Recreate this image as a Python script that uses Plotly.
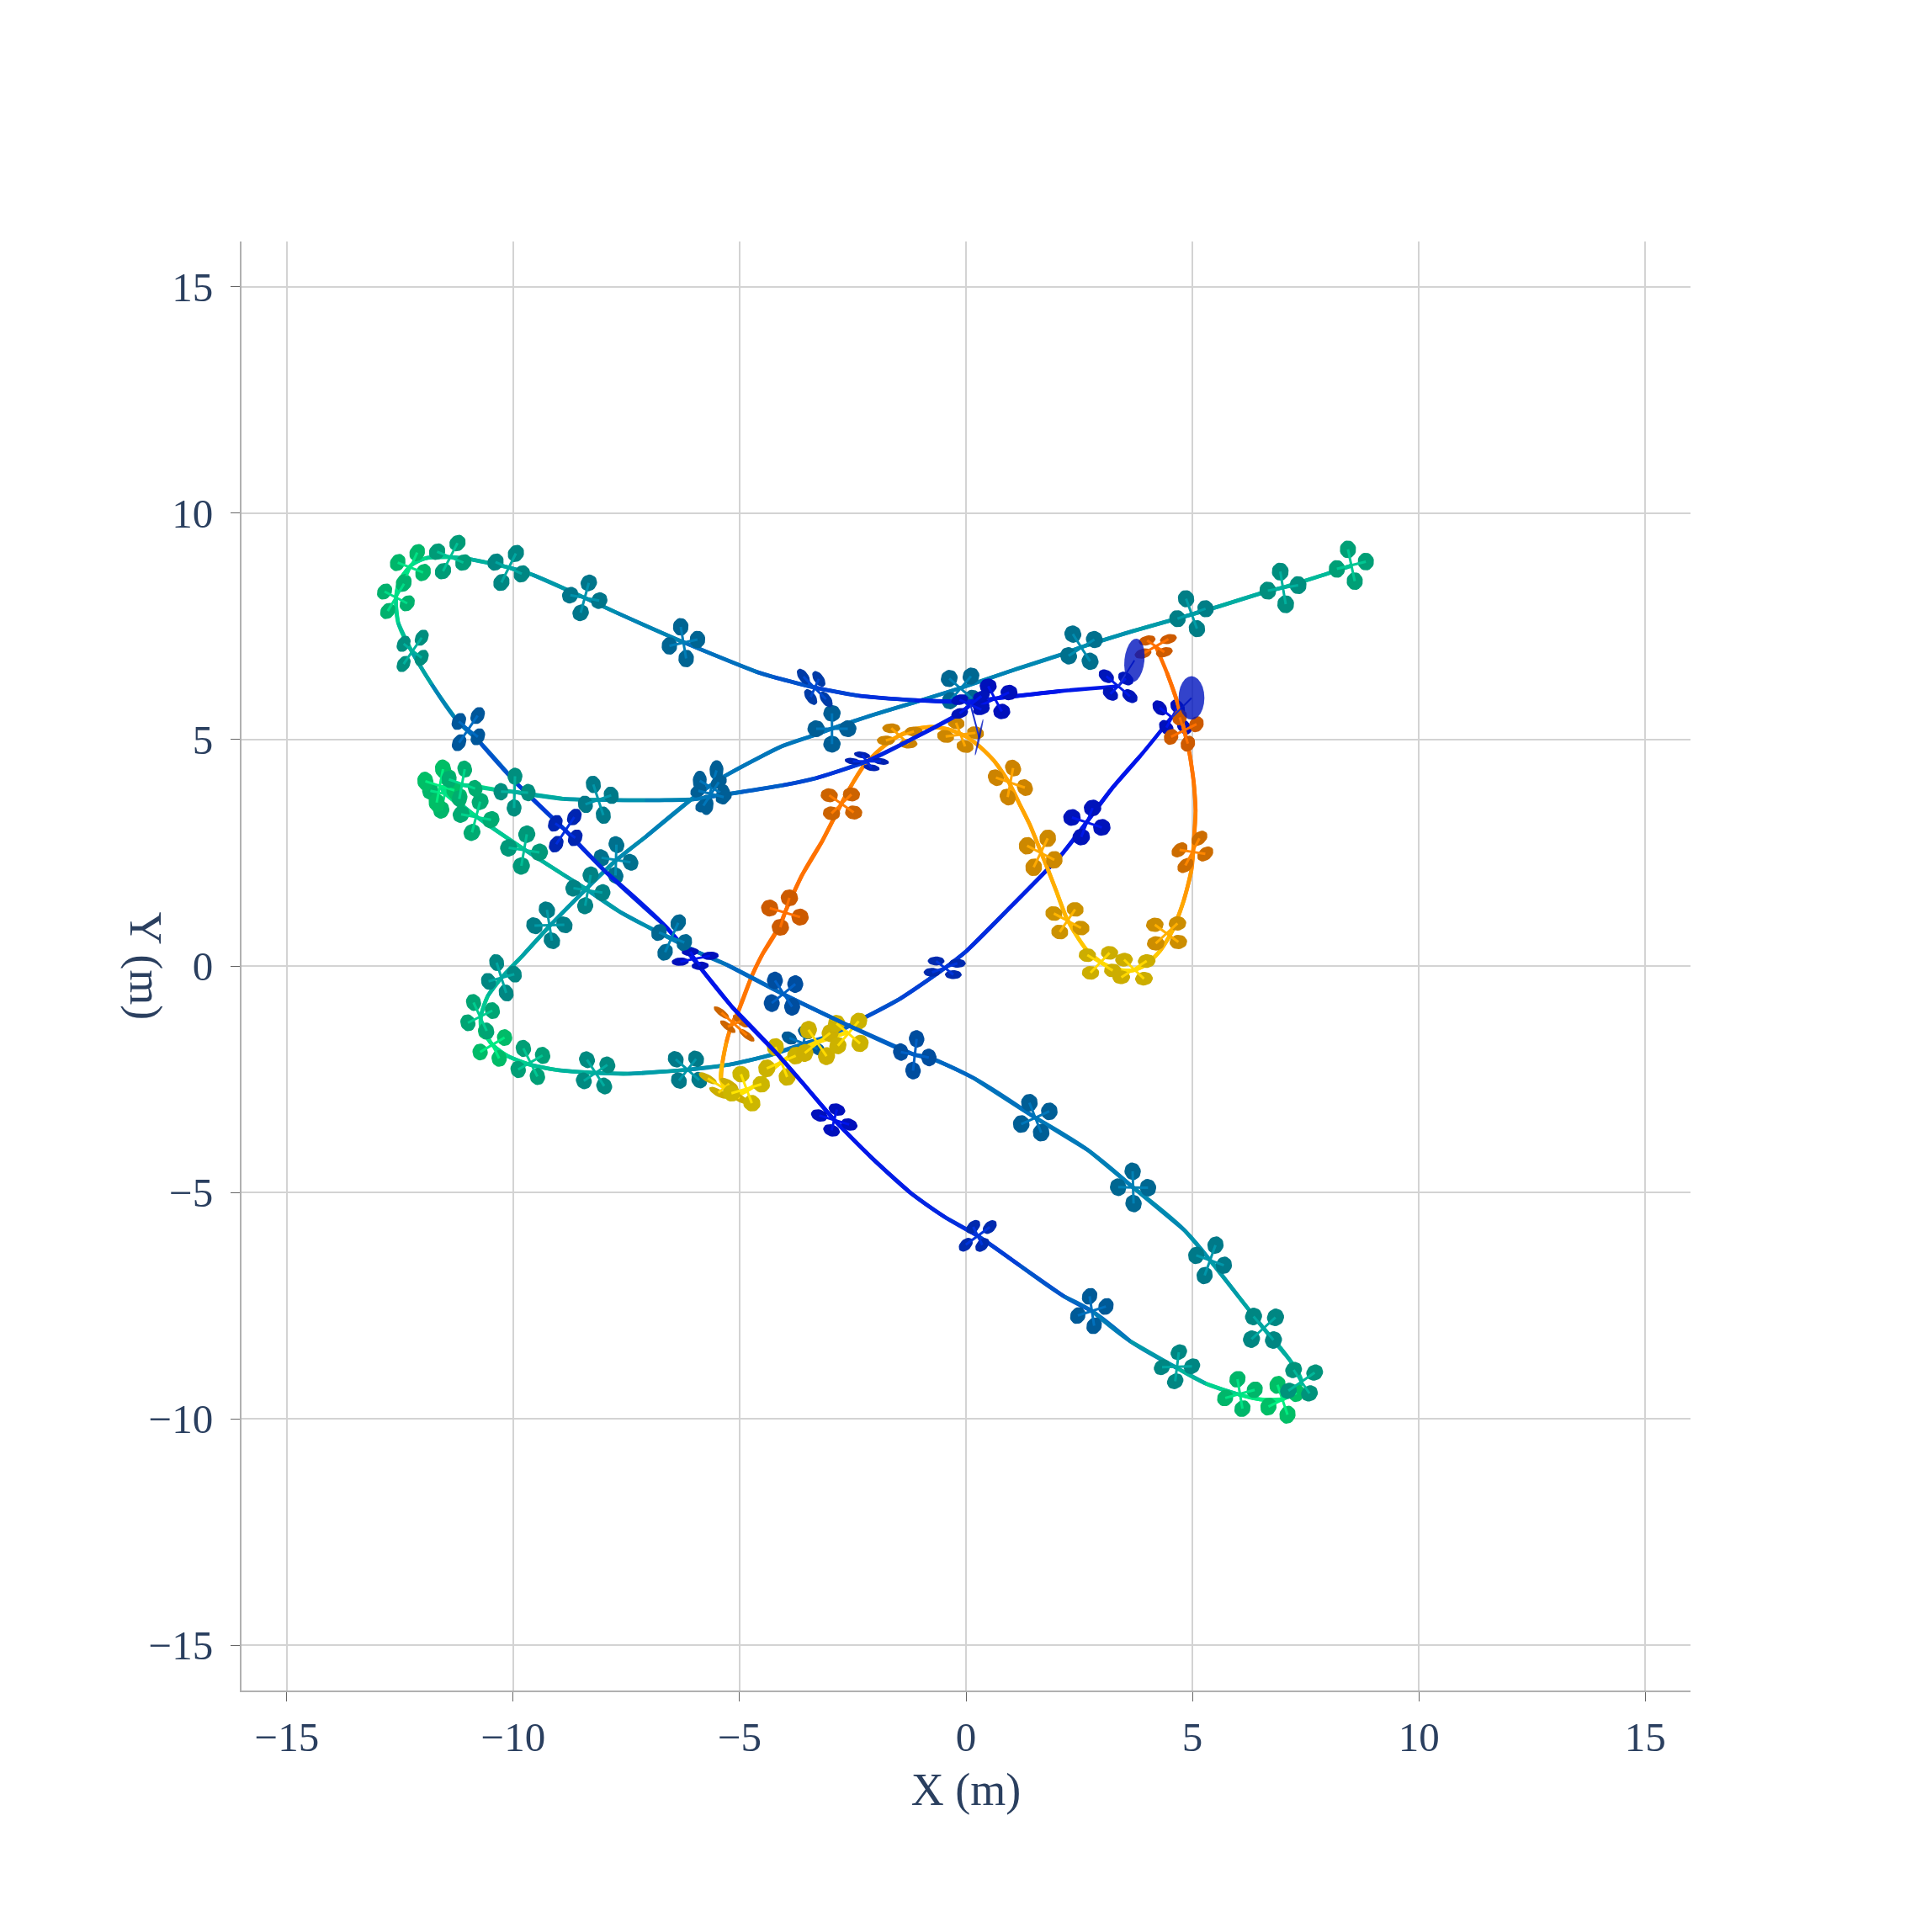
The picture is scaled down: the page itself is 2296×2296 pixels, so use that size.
import numpy as np
import plotly.graph_objects as go
from plotly.colors import sample_colorscale, unlabel_rgb

# trajectories, shade is 0..1 along each colour scale
path_a_x = [4.53, 3.85, 3.23, 2.66, 2.12, 1.68, 0.94, 0.01, -0.46, -1.45, -2.26, -3.06, -3.56, -4.30, -5.23, -6.16,
            -7.46, -8.20, -9.01, -9.63, -10.12, -10.46, -10.71, -10.71, -10.56, -10.25, -9.81, -9.19, -8.39, -7.71,
            -7.09, -6.03, -5.35, -4.61, -4.05, -3.43, -2.97, -2.07, -1.14, -0.15, 1.03, 2.08, 2.54, 3.70, 4.97, 5.61,
            6.67, 7.00, 8.09, 8.51]
path_a_y = [5.48, 4.64, 3.93, 3.17, 2.47, 2.01, 1.26, 0.33, -0.04, -0.72, -1.15, -1.56, -1.71, -1.96, -2.18, -2.29,
            -2.38, -2.36, -2.30, -2.18, -1.99, -1.74, -1.34, -1.09, -0.66, -0.25, 0.21, 0.89, 1.70, 2.35,
            2.84, 3.71, 4.18, 4.58, 4.86, 5.07, 5.24, 5.54, 5.82, 6.13, 6.53, 6.87, 7.04, 7.40, 7.76, 7.95,
            8.28, 8.36, 8.70, 8.84]
path_a_c = [0.0, 0.0, 0.0, 0.02, 0.03, 0.05, 0.08, 0.14, 0.17, 0.24, 0.32, 0.38, 0.42, 0.48, 0.55, 0.6,
            0.66, 0.7, 0.76, 0.82, 0.9, 0.98, 0.92, 0.86, 0.78, 0.7, 0.66, 0.62, 0.6, 0.56,
            0.52, 0.47, 0.45, 0.45, 0.45, 0.45, 0.46, 0.47, 0.48, 0.5, 0.52, 0.54, 0.56, 0.6, 0.64, 0.68,
            0.72, 0.74, 0.78, 0.82]

path_b_x = [3.36, 2.08, 0.66, 0.10, -1.14, -2.38, -3.34, -4.24, -4.61, -6.24, -7.71, -8.42, -9.57, -10.06, -10.93,
            -11.42, -11.92, -12.23, -12.51, -12.59, -12.54, -12.23, -11.80, -11.24, -10.80, -9.94, -8.85, -7.95, -6.65,
            -5.97, -5.17, -4.18, -3.56, -2.91, -2.13, -1.20, -0.46, 0.26, 1.18, 2.17, 2.78, 3.63, 4.66, 5.29, 6.05,
            6.49, 6.99, 7.32, 7.41, 7.15, 6.57, 6.02, 5.39, 4.83, 3.69, 2.70, 1.53, 0.18, -0.82, -1.14, -2.88, -4.02,
            -5.29, -5.91, -6.53, -6.96, -7.65, -8.39, -8.88, -9.75, -10.80, -11.58, -11.14, -10.31, -9.94, -8.88,
            -8.11, -7.09, -6.03, -5.63, -4.98, -4.05, -3.31, -2.19, -1.14, -0.15, 0.10]
path_b_y = [6.18, 6.07, 5.91, 5.84, 5.87, 5.97, 6.15, 6.38, 6.49, 7.15, 7.80, 8.13, 8.64, 8.79, 8.98,
            9.03, 9.01, 8.87, 8.51, 8.11, 7.58, 6.93, 6.22, 5.42, 5.01, 4.05, 3.00, 2.07, 0.89,
            0.09, -0.90, -1.93, -2.64, -3.40, -4.19, -5.03, -5.55, -5.96, -6.61, -7.30, -7.62, -8.29, -8.88, -9.22, -9.47,
            -9.57, -9.57, -9.35, -9.18, -8.70, -8.00, -7.30, -6.50, -5.84, -4.89, -4.07, -3.35, -2.48, -2.02, -1.96, -1.18, -0.63,
            0.03, 0.30, 0.61, 0.83, 1.20, 1.70, 2.01, 2.57, 3.29, 3.93, 4.00, 3.88, 3.84, 3.69,
            3.67, 3.66, 3.68, 3.74, 3.84, 3.99, 4.15, 4.52, 5.04, 5.57, 5.77]
path_b_c = [0.03, 0.01, 0.0, 0.03, 0.08, 0.18, 0.25, 0.33, 0.36, 0.48, 0.55, 0.58, 0.64, 0.68, 0.76,
            0.8, 0.88, 0.95, 0.95, 0.92, 0.84, 0.72, 0.58, 0.44, 0.36, 0.22, 0.12, 0.06, 0.02,
            0.0, 0.0, 0.0, 0.0, 0.0, 0.02, 0.06, 0.1, 0.15, 0.24, 0.36, 0.42, 0.54, 0.68, 0.8, 0.95,
            1.0, 1.0, 0.85, 0.76, 0.72, 0.68, 0.64, 0.6, 0.56, 0.5, 0.47, 0.45, 0.4, 0.36, 0.35, 0.35, 0.36,
            0.42, 0.46, 0.5, 0.54, 0.6, 0.65, 0.7, 0.78, 0.88, 1.0, 0.92, 0.78, 0.72, 0.64,
            0.6, 0.54, 0.47, 0.45, 0.38, 0.28, 0.2, 0.1, 0.05, 0.03, 0.02]

path_c_x = [4.19, 4.44, 4.66, 4.80, 4.94, 5.03, 5.07, 5.03, 4.98, 4.81, 4.57, 4.29, 3.98, 3.67, 3.30, 2.97, 2.65, 2.40,
            2.21, 2.00, 1.81, 1.65, 1.41, 1.19, 0.95, 0.63, 0.32, 0.0, -0.40, -0.77, -1.14, -1.51, -1.88, -2.26, -2.53,
            -2.75, -3.18, -3.62, -3.99, -4.11, -4.49, -4.73, -5.04, -5.17, -5.29, -5.38, -5.41, -5.23, -5.01, -4.67,
            -4.30, -3.93, -3.43, -3.00, -2.60]
path_c_y = [7.06, 6.47, 5.85, 5.29, 4.67, 4.05, 3.43, 2.75, 2.13, 1.45, 0.80, 0.34, 0.03, -0.10, -0.07, 0.09, 0.37, 0.74,
            1.08, 1.64, 2.13, 2.53, 3.12, 3.56, 4.05, 4.52, 4.83, 5.07, 5.23, 5.28, 5.23, 5.07, 4.80, 4.42, 3.99,
            3.59, 2.75, 2.01, 1.20, 0.89, 0.27, -0.22, -1.03, -1.28, -1.68, -2.14, -2.52, -2.79, -2.83, -2.64,
            -2.30, -2.02, -1.74, -1.59, -1.46]
path_c_c = [0.0, 0.0, 0.0, 0.0, 0.02, 0.05, 0.1, 0.18, 0.28, 0.42, 0.55, 0.7, 0.85, 0.95, 0.95, 0.88, 0.78, 0.68,
            0.62, 0.55, 0.5, 0.47, 0.45, 0.45, 0.45, 0.45, 0.47, 0.47, 0.47, 0.47, 0.45, 0.42, 0.35, 0.25, 0.15,
            0.08, 0.02, 0.0, 0.0, 0.0, 0.0, 0.02, 0.08, 0.12, 0.25, 0.5, 0.8, 1.0, 1.0, 0.98,
            0.95, 0.95, 0.92, 0.95, 1.0]

# quadrotors: centre, two arm vectors as seen from above, shade
drone_a_x = [4.55, 2.67, -0.47, -3.59, -6.15, -8.18, -9.62, -10.46, -10.73, -10.26, -9.20, -7.73, -5.62, -2.96, -0.12, 2.55, 4.98, 7.00, 8.51]
drone_a_y = [5.49, 3.17, -0.04, -1.71, -2.29, -2.36, -2.13, -1.74, -1.12, -0.26, 0.90, 2.34, 3.94, 5.24, 6.13, 7.03, 7.78, 8.35, 8.85]
drone_a_ax = [-0.27, -0.33, -0.19, -0.31, -0.26, -0.19, -0.155, -0.15, -0.145, -0.105, -0.055, 0.01, -0.26, 0.0, -0.25, -0.19, -0.12, -0.06, -0.075]
drone_a_ay = [0.21, 0.11, 0.15, 0.12, 0.23, 0.29, 0.31, 0.30, 0.315, 0.335, 0.34, 0.34, 0.15, 0.34, 0.22, 0.30, 0.33, 0.36, 0.35]
drone_a_bx = [0.125, 0.125, 0.28, 0.05, 0.19, 0.26, 0.27, 0.27, 0.27, 0.285, 0.33, 0.32, 0.11, 0.35, 0.23, 0.285, 0.31, 0.335, 0.32]
drone_a_by = [0.225, 0.32, 0.10, 0.24, 0.24, 0.175, 0.155, 0.16, 0.135, 0.08, 0.01, -0.05, 0.38, 0.0, 0.27, 0.18, 0.11, 0.06, 0.08]
drone_a_c = [0.0, 0.02, 0.15, 0.42, 0.6, 0.7, 0.82, 0.98, 0.85, 0.68, 0.62, 0.55, 0.45, 0.45, 0.5, 0.55, 0.63, 0.72, 0.82]

drone_b_x = [3.36, 0.64, -3.34, -6.24, -8.42, -10.10, -11.39, -12.27, -12.59, -12.22, -10.99, -8.85, -5.98, -2.91, 0.26, 2.78, 4.66, 6.05, 6.99, 7.41,
             6.57, 5.39, 3.69, 1.53, -1.13, -4.03, -6.50, -8.35, -9.76, -10.82, -11.51, -11.62, -11.13, -9.97, -8.12, -5.63, -2.19, 0.10]
drone_b_y = [6.18, 5.90, 6.14, 7.14, 8.13, 8.79, 9.03, 8.80, 8.14, 6.96, 5.23, 2.99, 0.16, -3.40, -5.96, -7.62, -8.85, -9.45, -9.58, -9.18,
             -8.00, -6.50, -4.89, -3.35, -1.96, -0.61, 0.63, 1.67, 2.56, 3.29, 3.80, 3.98, 4.02, 3.84, 3.67, 3.80, 4.52, 5.77]
drone_b_ax = [-0.26, -0.15, -0.25, -0.06, 0.09, 0.16, 0.16, 0.15, 0.18, 0.20, 0.205, 0.20, -0.33, -0.33, -0.10, -0.05, 0.04, -0.055, -0.11, -0.175,
              -0.22, 0.12, -0.01, -0.13, 0.04, -0.19, 0.145, 0.06, 0.06, 0.09, 0.08, 0.07, 0.06, 0.01, -0.11, -0.28, -0.31, -0.24]
drone_b_ay = [0.22, 0.28, 0.25, 0.35, 0.33, 0.32, 0.31, 0.33, 0.30, 0.29, 0.30, 0.30, -0.065, 0.10, 0.20, 0.325, 0.32, 0.325, 0.33, 0.26,
              0.26, 0.335, 0.355, 0.33, 0.35, 0.29, 0.325, 0.34, 0.35, 0.34, 0.35, 0.37, 0.33, 0.35, 0.34, 0.07, 0.0, 0.11]
drone_b_bx = [0.17, 0.31, 0.09, 0.31, 0.32, 0.29, 0.29, 0.28, 0.25, 0.20, 0.21, 0.22, -0.11, 0.06, 0.265, 0.31, 0.33, 0.325, 0.31, 0.29,
              0.265, 0.305, 0.33, 0.31, 0.31, 0.26, 0.28, 0.32, 0.34, 0.33, 0.32, 0.32, 0.29, 0.30, 0.285, 0.17, -0.105, 0.24]
drone_b_by = [0.17, 0.14, 0.20, 0.07, -0.06, -0.13, -0.12, -0.11, -0.13, -0.155, -0.17, -0.16, 0.155, 0.23, 0.195, 0.10, 0.01, 0.09, 0.15, 0.20,
              0.24, -0.11, -0.005, 0.14, -0.06, 0.21, -0.11, -0.05, -0.05, -0.06, -0.07, -0.10, -0.10, -0.01, 0.10, 0.26, 0.14, 0.19]
drone_b_c = [0.03, 0.0, 0.25, 0.48, 0.58, 0.68, 0.8, 0.95, 0.92, 0.72, 0.4, 0.12, 0.0, 0.0, 0.15, 0.42, 0.68, 0.95, 1.0, 0.75,
             0.68, 0.6, 0.5, 0.45, 0.35, 0.35, 0.5, 0.65, 0.78, 0.88, 0.95, 1.0, 0.9, 0.72, 0.6, 0.45, 0.1, 0.02]

drone_c_x = [4.19, 4.81, 5.00, 4.43, 3.71, 2.96, 2.24, 1.65, 0.98, -0.12, -1.46, -2.75, -4.00, -5.12, -5.35, -4.85, -4.08, -3.28, -2.60]
drone_c_y = [7.06, 5.20, 2.52, 0.72, -0.07, 0.07, 1.00, 2.50, 4.05, 5.11, 5.08, 3.58, 1.18, -1.28, -2.70, -2.71, -2.12, -1.70, -1.49]
drone_c_ax = [-0.19, -0.09, 0.155, -0.26, -0.22, -0.28, -0.30, -0.30, 0.06, -0.10, -0.19, -0.27, -0.335, -0.28, -0.35, -0.12, -0.13, -0.20, -0.26]
drone_c_ay = [0.13, 0.29, 0.30, 0.19, 0.21, 0.17, 0.16, 0.155, 0.32, 0.26, 0.17, 0.19, 0.10, 0.25, 0.22, 0.32, 0.33, 0.29, 0.22]
drone_c_bx = [0.28, 0.28, 0.285, 0.24, 0.28, 0.21, 0.17, 0.155, 0.32, 0.33, 0.31, 0.22, 0.10, 0.14, 0.12, 0.33, 0.32, 0.28, 0.23]
drone_c_by = [0.16, 0.14, -0.045, 0.22, 0.18, 0.22, 0.25, 0.32, -0.11, 0.04, 0.10, 0.21, 0.325, 0.06, 0.10, 0.10, 0.14, 0.22, 0.27]
drone_c_c = [0.0, 0.0, 0.2, 0.55, 0.9, 0.9, 0.6, 0.5, 0.45, 0.47, 0.45, 0.1, 0.0, 0.12, 0.9, 1.0, 0.95, 0.92, 0.95]

# blue ellipses at the end of the two blue runs plus the edge-on one
goal_x = [3.72, 4.98, 0.29]
goal_y = [6.75, 5.92, 5.05]
goal_ax = [0.05, 0.0, 0.09]
goal_ay = [0.48, 0.48, 0.40]
goal_bx = [0.22, 0.285, 0.025]
goal_by = [-0.02, 0.0, -0.01]
goal_from_x = [3.36, 4.55, 0.10]
goal_from_y = [6.18, 5.49, 5.77]

blue_scale = [[0, "#0014ea"], [1, "#00ee80"]]
warm_scale = [[0, "#ff7000"], [1, "#ffe400"]]

ROTOR_ARM = 0.55
theta = np.linspace(0, 2 * np.pi, 25)
fig = go.Figure()


def shade(scale, c, k=1.0):
    r, g, b = unlabel_rgb(sample_colorscale(scale, [c])[0])
    return f"rgb({r * k:.0f},{g * k:.0f},{b * k:.0f})"


def draw_run(px, py, pc, dx, dy, ax, ay, bx, by, dc, scale):
    # no gradient lines in plotly so one trace per step, 3 vertices each so the spline stays round
    for i in range(len(px) - 1):
        fig.add_trace(go.Scatter(x=px[i:i + 3], y=py[i:i + 3], mode="lines",
                                 line=dict(color=shade(scale, (pc[i] + pc[i + 1]) / 2), width=4.6, shape="spline"),
                                 hoverinfo="skip", showlegend=False))
    for i in range(len(dx)):
        a = np.array([ax[i], ay[i]])
        b = np.array([bx[i], by[i]])
        centre = np.array([dx[i], dy[i]])
        rx, ry, arm_x, arm_y = [], [], [], []
        for p in (a, b, -a, -b):
            tip = centre + p
            ring = tip[:, None] + ROTOR_ARM * (a[:, None] * np.cos(theta) + b[:, None] * np.sin(theta))
            rx += list(ring[0]) + [None]
            ry += list(ring[1]) + [None]
            arm_x += [centre[0], tip[0], None]
            arm_y += [centre[1], tip[1], None]
        fig.add_trace(go.Scatter(x=rx, y=ry, mode="lines", fill="toself", line=dict(width=0),
                                 fillcolor=shade(scale, dc[i], 0.8), hoverinfo="skip", showlegend=False))
        fig.add_trace(go.Scatter(x=arm_x, y=arm_y, mode="lines",
                                 line=dict(color=shade(scale, dc[i]), width=3),
                                 hoverinfo="skip", showlegend=False))


draw_run(path_a_x, path_a_y, path_a_c, drone_a_x, drone_a_y, drone_a_ax, drone_a_ay, drone_a_bx, drone_a_by, drone_a_c, blue_scale)
draw_run(path_c_x, path_c_y, path_c_c, drone_c_x, drone_c_y, drone_c_ax, drone_c_ay, drone_c_bx, drone_c_by, drone_c_c, warm_scale)
draw_run(path_b_x, path_b_y, path_b_c, drone_b_x, drone_b_y, drone_b_ax, drone_b_ay, drone_b_bx, drone_b_by, drone_b_c, blue_scale)

for i in range(len(goal_x)):
    ex = goal_x[i] + goal_ax[i] * np.sin(theta) + goal_bx[i] * np.cos(theta)
    ey = goal_y[i] + goal_ay[i] * np.sin(theta) + goal_by[i] * np.cos(theta)
    fig.add_trace(go.Scatter(x=[goal_from_x[i], goal_x[i]], y=[goal_from_y[i], goal_y[i]], mode="lines",
                             line=dict(color="#1a30d0", width=2), hoverinfo="skip", showlegend=False))
    fig.add_trace(go.Scatter(x=ex, y=ey, mode="lines", fill="toself", line=dict(width=0),
                             fillcolor="rgba(0,20,190,0.8)", hoverinfo="skip", showlegend=False))

axis_style = dict(range=[-16, 16], dtick=5, tick0=0, showgrid=True, gridcolor="#d3d3d3", gridwidth=2,
                  zeroline=False, showline=True, linecolor="#b0b0b0", linewidth=2,
                  ticks="outside", ticklen=11, tickwidth=1, tickcolor="#666666",
                  tickfont=dict(family="Liberation Serif", size=49, color="#2a3f5f"))
fig.update_xaxes(**axis_style, ticklabelstandoff=0,
                 title=dict(text="X (m)", standoff=16, font=dict(family="Liberation Serif", size=54, color="#2a3f5f")))
fig.update_yaxes(**axis_style, ticklabelstandoff=11)
fig.add_annotation(text="Y (m)", xref="paper", yref="paper", x=-0.066, y=0.5, showarrow=False, textangle=90,
                   xanchor="center", yanchor="middle",
                   font=dict(family="Liberation Serif", size=54, color="#2a3f5f"))
# the page body has an 8px margin, take it off left and top
fig.update_layout(width=2296, height=2296, margin=dict(l=279, r=295, t=279, b=295),
                  paper_bgcolor="white", plot_bgcolor="white", showlegend=False)
fig.write_html("out.html")
